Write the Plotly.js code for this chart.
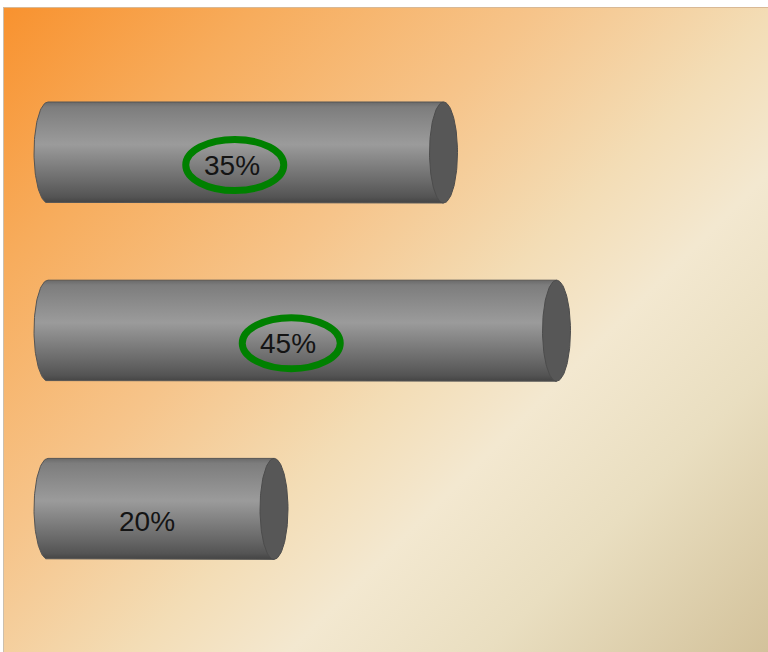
<!DOCTYPE html>
<html><head><meta charset="utf-8">
<script src="https://cdn.plot.ly/plotly-3.0.1.min.js"></script>
<style>
html,body{margin:0;padding:0;background:#fff;overflow:hidden;}
#bg{position:absolute;left:3px;top:7px;width:765px;height:645px;box-sizing:border-box;
background:linear-gradient(135deg,#F8922F 0%,#F7AC5C 18%,#F6C48A 38%,#F3DDB6 55%,#F3E8D0 66%,#E9DEC0 80%,#D3C29B 100%);
border-left:1px solid #cbbfae;border-top:1px solid #d8b996;}
#chart{position:absolute;left:0;top:0;width:768px;height:652px;}
</style></head><body><div id="bg"></div><div id="chart"></div>
<script>
// ---- data ----
const categories = ['Item 1', 'Item 2', 'Item 3'];
const values = [35, 45, 20];
const labels = ['35%', '45%', '20%'];
const highlighted = [true, true, false];

// ---- geometry / style ----
const W = 768, H = 652;
const pxPerUnit = 11.3, zeroPx = 48;
const xRange = [-zeroPx / pxPerUnit, (W - zeroPx) / pxPerUnit];
const firstCenterPx = 152.5, stepPx = 178.2;
const yRange = [(H - firstCenterPx) / stepPx, -firstCenterPx / stepPx];
const halfH = 50.5 / stepPx;
const capRx = 14 / pxPerUnit;
const N = 60;

const traces = [];
const annotations = [];
const shapes = [];

values.forEach((v, i) => {
  const yc = i;
  // body: rectangle + left half-ellipse
  const bx = [0, v, v, 0], by = [yc - halfH, yc - halfH, yc + halfH, yc + halfH];
  for (let k = 0; k <= N; k++) {
    const a = Math.PI * k / N;
    bx.push(-capRx * Math.sin(a));
    by.push(yc + halfH * Math.cos(a));
  }
  traces.push({
    type: 'scatter', mode: 'lines', x: bx, y: by, fill: 'toself',
    line: {color: '#555555', width: 1},
    fillgradient: {
      type: 'vertical', start: yc - halfH, stop: yc + halfH,
      colorscale: [[0, '#6a6a6a'], [0.05, '#7d7d7d'], [0.42, '#9b9b9b'], [0.8, '#686868'], [0.94, '#545454'], [1, '#444444']]
    },
    hoverinfo: 'skip', showlegend: false, name: categories[i]
  });
  // cap ellipse
  const cx = [], cy = [];
  for (let k = 0; k <= 2 * N; k++) {
    const t = 2 * Math.PI * k / (2 * N);
    cx.push(v + capRx * Math.cos(t));
    cy.push(yc + halfH * Math.sin(t));
  }
  traces.push({
    type: 'scatter', mode: 'lines', x: cx, y: cy, fill: 'toself',
    fillcolor: '#575757', line: {color: '#4c4c4c', width: 1},
    hoverinfo: 'skip', showlegend: false
  });
  const lx = v / 2 - capRx;
  annotations.push({
    x: lx, y: yc, xref: 'x', yref: 'y', yshift: -13, text: labels[i], showarrow: false,
    font: {family: 'Liberation Sans, Arial, sans-serif', size: 28, color: '#141414'},
    xanchor: 'center', yanchor: 'middle'
  });
  if (highlighted[i]) {
    shapes.push({
      type: 'circle', xref: 'x', yref: 'y', xsizemode: 'pixel', ysizemode: 'pixel',
      xanchor: lx, yanchor: yc, x0: -46, x1: 52, y0: -38, y1: 13,
      line: {color: '#008000', width: 7}, fillcolor: 'rgba(0,0,0,0)'
    });
  }
});

const layout = {
  width: W, height: H, margin: {l: 0, r: 0, t: 0, b: 0},
  paper_bgcolor: 'rgba(0,0,0,0)', plot_bgcolor: 'rgba(0,0,0,0)',
  xaxis: {range: xRange, visible: false, fixedrange: true},
  yaxis: {range: yRange, visible: false, fixedrange: true, tickvals: [0, 1, 2], ticktext: categories},
  annotations: annotations, shapes: shapes, showlegend: false
};
Plotly.newPlot('chart', traces, layout, {displayModeBar: false, staticPlot: true});
</script>
</body></html>
